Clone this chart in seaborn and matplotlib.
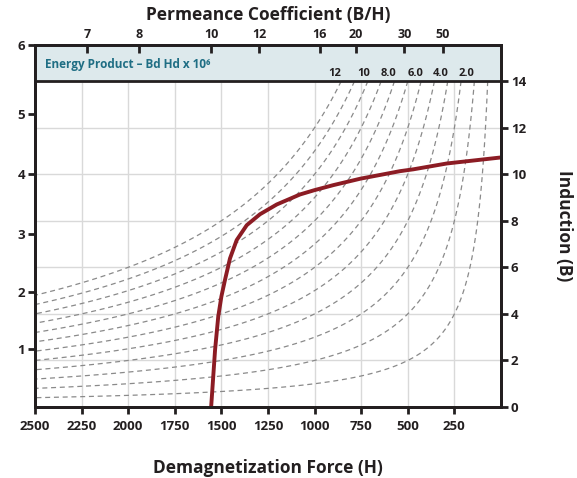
import numpy as np
import matplotlib.pyplot as plt
import seaborn as sns

# Demagnetization curve (H in Oe, B in kG)
demag_h = [1555, 1534, 1517, 1500, 1481, 1454, 1418, 1364, 1293, 1203, 1078, 1003, 900, 753, 542, 470, 291, 0]
demag_b = [0, 2.45, 3.88, 4.75, 5.45, 6.38, 7.17, 7.81, 8.28, 8.7, 9.13, 9.31, 9.53, 9.81, 10.13, 10.21, 10.46, 10.72]

# Energy product contours (MGOe) and the labels printed above them
energy_levels = [1, 2, 3, 4, 5, 6, 7, 8, 9, 10, 11, 12]
energy_labels = ["12", "10", "8.0", "6.0", "4.0", "2.0"]
energy_label_h = [890, 735, 601, 461, 322, 188]

# Axis ticks
h_ticks = [2500, 2250, 2000, 1750, 1500, 1250, 1000, 750, 500, 250]
b_ticks = [0, 2, 4, 6, 8, 10, 12, 14]
left_labels = ["1", "2", "3", "4", "5", "6"]
left_pos = [2.49, 4.94, 7.42, 10.0, 12.6, 15.55]
permeance = [7, 8, 10, 12, 16, 20, 30, 50]

B_TOP = 15.55
DARK = "#231f20"

sns.set_theme(style="white")
plt.rcParams["font.family"] = ["Open Sans", "DejaVu Sans"]
plt.rcParams["font.weight"] = "bold"
plt.rcParams["lines.dashed_pattern"] = [4, 3]

fig = plt.figure(figsize=(5.77, 4.78), dpi=100)
ax = fig.add_axes([35 / 577, 71 / 478, 466 / 577, 362 / 478])
ax.set_xlim(2500, 0)
ax.set_ylim(0, B_TOP)

# grid
for h in h_ticks[1:]:
    ax.axvline(h, color="#d9d9d9", lw=1, zorder=0)
for b in b_ticks[1:-1]:
    ax.axhline(b, color="#d9d9d9", lw=1, zorder=0)

# iso-energy lines B*H = const
hh = np.linspace(1, 2500, 800)
bb = np.linspace(0, 14, 500)
HH, BB = np.meshgrid(hh, bb)
ax.contour(HH, BB, HH * BB / 1000, levels=energy_levels,
           colors="#8a8a8a", linewidths=0.9, linestyles="--", zorder=1)

# demagnetization curve
sns.lineplot(x=demag_h, y=demag_b, sort=False, estimator=None,
             color="#8c1c24", lw=2.8, ax=ax, zorder=2)
ax.lines[-1].set_solid_joinstyle("round")

# energy product band
ax.axhspan(14, B_TOP, color="#dde9ec", zorder=3)
ax.axhline(14, color=DARK, lw=2, zorder=4)
ax.text(2445, 14.72, "Energy Product – Bd Hd x 10⁶", color="#1f6e84",
        fontsize=8.5, fontweight="bold", va="center", ha="left", zorder=5)
for h, lbl in zip(energy_label_h, energy_labels):
    ax.text(h, 14.08, lbl, ha="center", va="bottom", fontsize=8,
            color=DARK, zorder=5)

# bottom / left
ax.set_xticks(h_ticks)
ax.set_xticklabels(h_ticks)
ax.set_yticks(left_pos)
ax.set_yticklabels(left_labels)
ax.tick_params(axis="x", bottom=True, direction="out", length=5, width=2,
               color=DARK, labelsize=9.5, labelcolor=DARK, pad=4)
ax.tick_params(axis="y", left=True, direction="out", length=5, width=2,
               color=DARK, labelsize=9.5, labelcolor=DARK, pad=2)
ax.set_xlabel("Demagnetization Force (H)", fontsize=12.5, fontweight="bold",
              color=DARK, labelpad=19)

# right: induction
ax2 = ax.twinx()
ax2.set_ylim(0, B_TOP)
ax2.set_yticks(b_ticks)
ax2.set_yticklabels(b_ticks)
ax2.tick_params(axis="y", right=True, direction="out", length=5, width=2,
                color=DARK, labelsize=9.5, labelcolor=DARK, pad=2)
ax2.set_ylabel("Induction (B)", rotation=-90, fontsize=12.5, fontweight="bold",
               color=DARK, labelpad=34)

# top: permeance coefficient
ax3 = ax.twiny()
ax3.set_xlim(2500, 0)
ax3.set_xticks([B_TOP * 1000 / p for p in permeance])
ax3.set_xticklabels(permeance)
ax3.tick_params(axis="x", top=True, direction="in", length=6, width=2,
                color=DARK, labelsize=9, labelcolor=DARK, pad=3)
ax3.set_xlabel("Permeance Coefficient (B/H)", fontsize=12.5, fontweight="bold",
               color=DARK, labelpad=6)

for a in (ax, ax2, ax3):
    for s in a.spines.values():
        s.set_linewidth(2)
        s.set_color(DARK)

fig.savefig("out.png", dpi=100)
